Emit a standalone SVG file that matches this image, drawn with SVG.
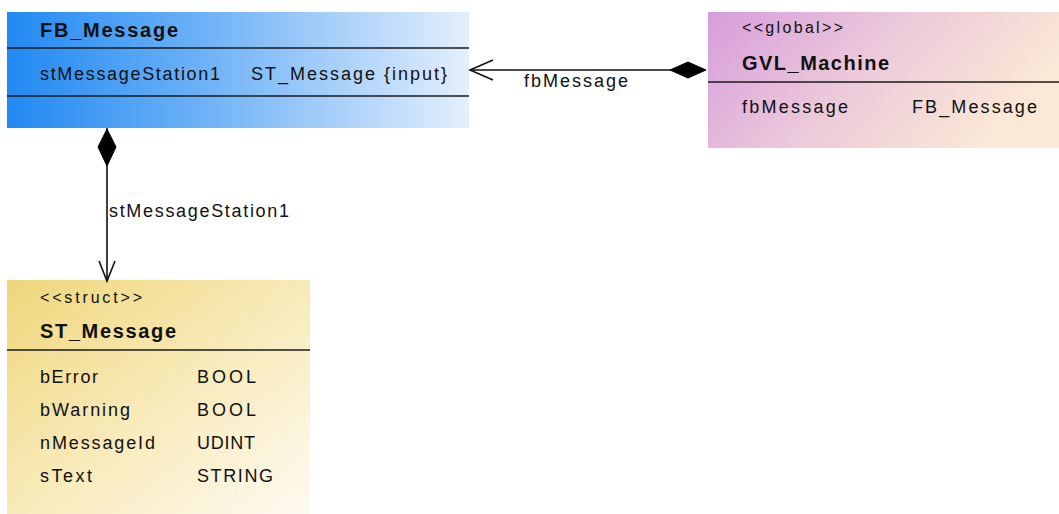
<svg xmlns="http://www.w3.org/2000/svg" width="1059" height="514" viewBox="0 0 1059 514">
<style>
text{font-family:"Liberation Sans",Arial,sans-serif;font-size:18px;fill:#111;}
.b{font-weight:bold;font-size:20px;}
.s{font-size:16px;}
.sep{stroke:#1a1a1a;stroke-width:1.6;}
.conn{stroke:#111;stroke-width:1.6;fill:none;}
.dia{fill:#000;stroke:#000;stroke-width:1;}
</style>
<defs>
<linearGradient id="gFB" x1="0" y1="0" x2="1" y2="0">
<stop offset="0" stop-color="#2189f2"/>
<stop offset="0.45" stop-color="#72b4f7"/>
<stop offset="1" stop-color="#e4effc"/>
</linearGradient>
<linearGradient id="gGVL" x1="0" y1="0" x2="1" y2="0.35">
<stop offset="0" stop-color="#d79ddc"/>
<stop offset="0.5" stop-color="#ebc8da"/>
<stop offset="1" stop-color="#fbe8d6"/>
</linearGradient>
<linearGradient id="gST" x1="0" y1="0" x2="1" y2="1">
<stop offset="0" stop-color="#efd67a"/>
<stop offset="0.5" stop-color="#f8eab8"/>
<stop offset="1" stop-color="#fefaf2"/>
</linearGradient>
</defs>

<g id="FB_Message">
<rect x="7" y="12" width="462" height="116" fill="url(#gFB)"/>
<text class="b" x="40" y="37" textLength="138" lengthAdjust="spacing">FB_Message</text>
<line class="sep" x1="7" y1="48" x2="469" y2="48"/>
<text x="40" y="80" textLength="180" lengthAdjust="spacing">stMessageStation1</text>
<text x="251" y="80" textLength="196" lengthAdjust="spacing">ST_Message {input}</text>
<line class="sep" x1="7" y1="96" x2="469" y2="96"/>
</g>

<g id="GVL_Machine">
<rect x="708" y="12" width="351" height="136" fill="url(#gGVL)"/>
<text class="s" x="742" y="33" textLength="101" lengthAdjust="spacing">&lt;&lt;global&gt;&gt;</text>
<text class="b" x="742" y="70" textLength="147" lengthAdjust="spacing">GVL_Machine</text>
<line class="sep" x1="708" y1="82" x2="1059" y2="82"/>
<text x="742" y="113" textLength="106" lengthAdjust="spacing">fbMessage</text>
<text x="912" y="113" textLength="125" lengthAdjust="spacing">FB_Message</text>
</g>

<g id="ST_Message">
<rect x="7" y="280" width="303" height="234" fill="url(#gST)"/>
<text class="s" x="40" y="303" textLength="102" lengthAdjust="spacing">&lt;&lt;struct&gt;&gt;</text>
<text class="b" x="40" y="338" textLength="136" lengthAdjust="spacing">ST_Message</text>
<line class="sep" x1="7" y1="350" x2="310" y2="350"/>
<text x="40" y="383" textLength="58" lengthAdjust="spacing">bError</text>
<text x="197" y="383" textLength="59" lengthAdjust="spacing">BOOL</text>
<text x="40" y="416" textLength="90" lengthAdjust="spacing">bWarning</text>
<text x="197" y="416" textLength="59" lengthAdjust="spacing">BOOL</text>
<text x="40" y="449" textLength="115" lengthAdjust="spacing">nMessageId</text>
<text x="197" y="449" textLength="58" lengthAdjust="spacing">UDINT</text>
<text x="40" y="482" textLength="52" lengthAdjust="spacing">sText</text>
<text x="197" y="482" textLength="76" lengthAdjust="spacing">STRING</text>
</g>

<g id="connectors">
<line class="conn" x1="470" y1="70" x2="671" y2="70"/>
<polyline class="conn" points="493,60 470,70 493,80"/>
<polygon class="dia" points="670,70 688,62 706,70 688,78"/>
<text x="524" y="87" textLength="104" lengthAdjust="spacing">fbMessage</text>

<line class="conn" x1="107" y1="128" x2="107" y2="281"/>
<polygon class="dia" points="107,129 98,147 107,166 116,147"/>
<polyline class="conn" points="99,261 107,281 115,261"/>
<text x="109" y="217" textLength="180" lengthAdjust="spacing">stMessageStation1</text>
</g>
</svg>
